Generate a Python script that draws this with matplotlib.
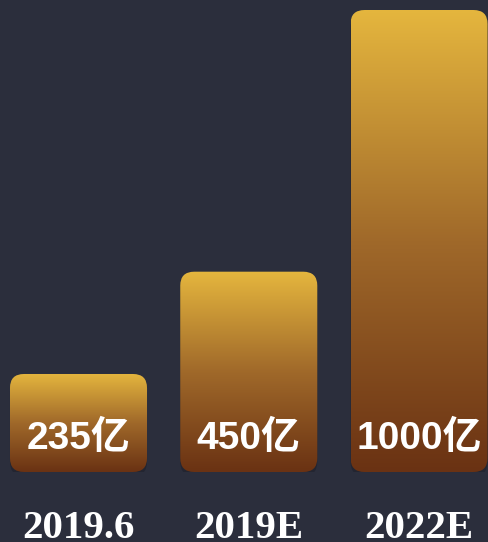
import numpy as np
import matplotlib.pyplot as plt
from matplotlib.patches import FancyBboxPatch
from matplotlib.colors import LinearSegmentedColormap
import matplotlib.transforms as mtransforms

plt.rcParams['font.family'] = ['Liberation Sans', 'Noto Sans CJK SC', 'DejaVu Sans']

# data
categories = ['2019.6', '2019E', '2022E']
values = [235, 450, 1000]
labels = ['235亿', '450亿', '1000亿']

bg = '#2b2e3c'
cmap = LinearSegmentedColormap.from_list('gold', ['#6a3213', '#a0692a', '#e5b63e'])

fig = plt.figure(figsize=(4.88, 5.42), dpi=100, facecolor=bg)
ax = fig.add_axes([0, 70 / 542, 1, 472 / 542])
ax.set_facecolor(bg)

base = 29
ax.axis('off')

width = 0.805
# rounding: data-units aspect (y units per px / x units per px)
aspect = (1 / 0.4758) / (1 / 170.25)
rs = 14 / 170.25

grad = np.linspace(0, 1, 256).reshape(-1, 1)
for i, v in enumerate(values):
    x0 = i - width / 2
    # faint shadow
    sh = FancyBboxPatch((x0, base - 4 / 0.4758), width, v - base,
                        boxstyle=f'round,pad=0,rounding_size={rs}',
                        mutation_aspect=aspect, facecolor='black',
                        alpha=0.18, edgecolor='none', zorder=1)
    ax.add_patch(sh)
    box = FancyBboxPatch((x0, base), width, v - base,
                         boxstyle=f'round,pad=0,rounding_size={rs}',
                         mutation_aspect=aspect, facecolor='none',
                         edgecolor='none', zorder=2)
    ax.add_patch(box)
    im = ax.imshow(grad, cmap=cmap, aspect='auto', origin='lower',
                   extent=[x0, x0 + width, base, v], zorder=2,
                   interpolation='bilinear')
    im.set_clip_path(box)

ax.set_xlim(-0.461, 2.405)
ax.set_ylim(base, base + 472 / 0.4758)

tr = mtransforms.blended_transform_factory(ax.transData, ax.transAxes)
for i, lab in enumerate(labels):
    ax.text(i, 33 / 472, lab, transform=tr, ha='center', va='center',
            color='white', fontsize=28, fontweight='bold', zorder=3)

trf = mtransforms.blended_transform_factory(ax.transData, fig.transFigure)
for i, c in enumerate(categories):
    ax.text(i, 4 / 542, c, transform=trf, ha='center', va='baseline',
            color='white', fontsize=29.5, fontweight='bold',
            family='Liberation Serif', clip_on=False)

fig.savefig('out.png', dpi=100, facecolor=bg)
